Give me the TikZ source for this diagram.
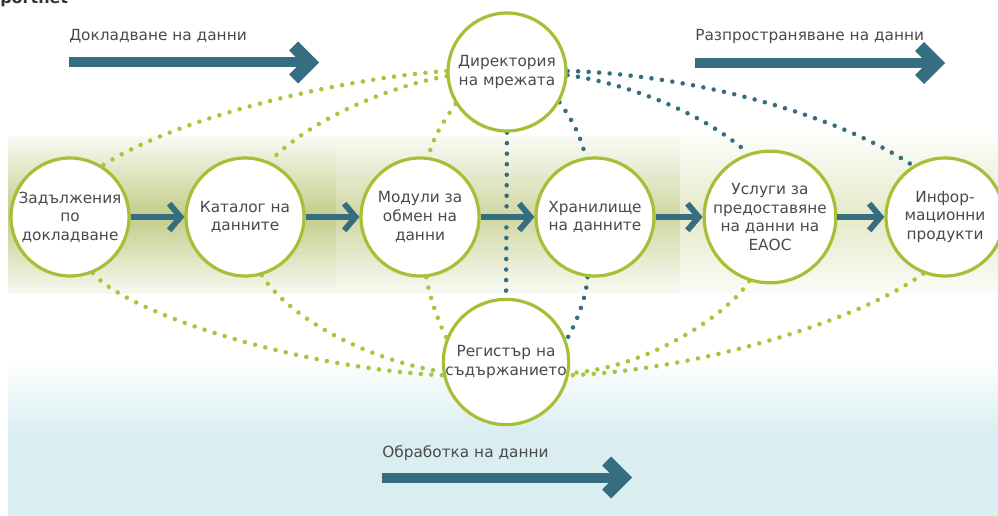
\documentclass[tikz,border=0pt]{standalone}
\usepackage{fontspec}
\setmainfont{DejaVu Sans}
\usetikzlibrary{arrows.meta}
\pgfdeclarelayer{bg}
\pgfdeclarelayer{lines}
\pgfsetlayers{bg,lines,main}
\definecolor{teal1}{HTML}{356E80}
\definecolor{green1}{HTML}{A9BE37}
\definecolor{gdotc}{HTML}{AFC23C}
\definecolor{txt}{HTML}{4A4A4A}
\definecolor{blue1}{HTML}{DAEEF2}
\definecolor{mid1}{HTML}{C3CC89}
\definecolor{mid2}{HTML}{D0D7A2}
\definecolor{mid3}{HTML}{E5E9C8}
\definecolor{edge1}{HTML}{F8F9F1}
\definecolor{edge2}{HTML}{F9FAF4}
\definecolor{edge3}{HTML}{FCFCF8}
\definecolor{titlec}{HTML}{333333}
\begin{document}
\begin{tikzpicture}[x=0.75pt,y=-0.75pt,
  proc/.style={circle,draw=green1,line width=2.4pt,fill=white,minimum size=88.5pt,inner sep=0pt,align=center,text=txt,font=\fontsize{11.5}{13.9}\selectfont},
  flow/.style={draw=teal1,line width=4.4pt,-{Straight Barb[length=8.5pt,width=20pt,sharp]}},
  gdot/.style={draw=gdotc,line width=3.4pt,line cap=round,dash pattern=on 0pt off 7.9pt},
  tdot/.style={gdot,draw=teal1},
  lbl/.style={anchor=base west,text=txt,font=\fontsize{11.5}{13.9}\selectfont,inner sep=0pt},
  bigarrow/.style={fill=teal1}]
\useasboundingbox (0,0) rectangle (998,516);

\begin{pgfonlayer}{bg}
  \shade[top color=white,bottom color=blue1] (8,357) rectangle (998,432);
  \fill[blue1] (8,431.5) rectangle (998,516);
  \shade[top color=edge1,middle color=mid1!45!edge1,bottom color=mid1] (8,137) rectangle (336,216);
  \shade[top color=mid1,middle color=mid1!45!edge1,bottom color=edge1] (8,215.5) rectangle (336,294);
  \shade[top color=edge2,middle color=mid2!45!edge2,bottom color=mid2] (336,137) rectangle (680,216);
  \shade[top color=mid2,middle color=mid2!45!edge2,bottom color=edge2] (336,215.5) rectangle (680,294);
  \shade[top color=edge3,middle color=mid3!45!edge3,bottom color=mid3] (680,137) rectangle (998,216);
  \shade[top color=mid3,middle color=mid3!45!edge3,bottom color=edge3] (680,215.5) rectangle (998,294);
\end{pgfonlayer}

\node[anchor=base west,inner sep=0pt,text=titlec,font=\bfseries\fontsize{12}{14}\selectfont] (title) at (0,4) {portnet};

\node[proc] (z) at (70,217) {Задължения\\по\\докладване};
\node[proc] (k) at (245,217) {Каталог на\\данните};
\node[proc] (m) at (420,217) {Модули за\\обмен на\\данни};
\node[proc] (h) at (595,217) {Хранилище\\на данните};
\node[proc] (u) at (770,217) {Услуги за\\предоставяне\\на данни на\\ЕАОС};
\node[proc] (i) at (945,217) {Инфор-\\мационни\\продукти};
\node[proc] (d) at (507,72) {Директория\\на мрежата};
\node[proc] (r) at (506,362) {Регистър на\\съдържанието};

\draw[flow] (z) -- (k);
\draw[flow] (k) -- (m);
\draw[flow] (m) -- (h);
\draw[flow] (h) -- (u);
\draw[flow] (u) -- (i);

\begin{pgfonlayer}{lines}
  \draw[gdot] (d.179) .. controls (350,78) and (185,113) .. (z.58);
  \draw[gdot] (d.184) .. controls (405,83) and (318,112) .. (k.66);
  \draw[gdot] (d.212) .. controls (442,123) and (432,140) .. (m.82);
  \draw[tdot] (d.south) -- (r.north);
  \draw[tdot] (d.-30) .. controls (574,122) and (582,140) .. (h.99);
  \draw[tdot] (d.-3) .. controls (620,82) and (700,110) .. (u.109);
  \draw[tdot] (d.1) .. controls (680,74) and (830,110) .. (i.122);
  \draw[gdot] (z.-68) .. controls (130,315) and (300,368) .. (r.192);
  \draw[gdot] (k.-74) .. controls (285,312) and (355,357) .. (r.189);
  \draw[gdot] (m.-84) .. controls (430,300) and (440,325) .. (r.158);
  \draw[tdot] (h.-97) .. controls (586,300) and (575,325) .. (r.20);
  \draw[gdot] (u.-108) .. controls (730,312) and (650,368) .. (r.-10);
  \draw[gdot] (i.-111) .. controls (860,320) and (700,370) .. (r.-12);
\end{pgfonlayer}

\node[lbl] (l1) at (69,41) {Докладване на данни};
\node[lbl] (l2) at (695,41) {Разпространяване на данни};
\node[lbl] (l3) at (382,457) {Обработка на данни};

\fill[bigarrow] (69,57.5) rectangle (303,67.5);
\fill[bigarrow] (319,62.5) -- ++(-21,-21) -- ++(-9,9) -- ++(12,12) -- ++(-12,12) -- ++(9,9) -- cycle;
\fill[bigarrow] (695,58) rectangle (929,68);
\fill[bigarrow] (945,63) -- ++(-21,-21) -- ++(-9,9) -- ++(12,12) -- ++(-12,12) -- ++(9,9) -- cycle;
\fill[bigarrow] (382,472.5) rectangle (616,482.5);
\fill[bigarrow] (632,477.5) -- ++(-21,-21) -- ++(-9,9) -- ++(12,12) -- ++(-12,12) -- ++(9,9) -- cycle;
\end{tikzpicture}
\end{document}
